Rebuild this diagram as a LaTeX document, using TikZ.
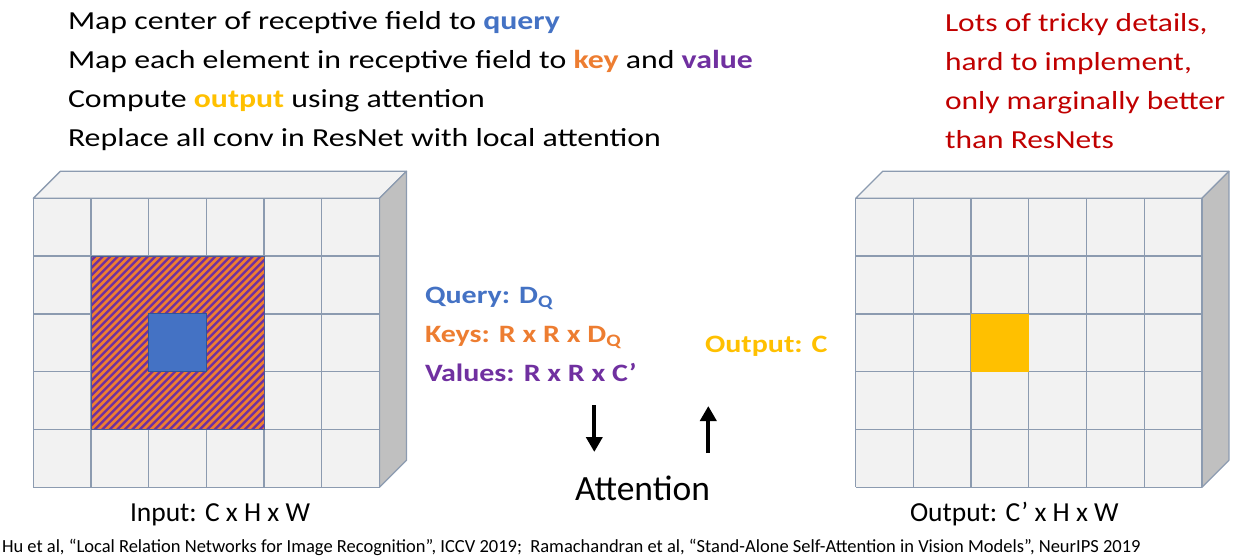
\documentclass[tikz,border=0pt]{standalone}
\usepackage{fontspec}
\setmainfont{Carlito}
\usetikzlibrary{arrows.meta}
\definecolor{gridfill}{HTML}{F2F2F2}
\definecolor{gridline}{HTML}{8C9BB0}
\definecolor{sideface}{HTML}{C0C0C0}
\definecolor{qblue}{HTML}{4472C4}
\definecolor{qblueline}{HTML}{2F5597}
\definecolor{korange}{HTML}{ED7D31}
\definecolor{vpurple}{HTML}{7030A0}
\definecolor{oyellow}{HTML}{FFC000}
\definecolor{warnred}{HTML}{C00000}
\definecolor{hatchline}{HTML}{4A5A96}
\newcommand\stretchtop[1]{\scalebox{1.223}[1]{#1}}
\newcommand\stretchred[1]{\scalebox{1.21}[1]{#1}}
\newcommand\stretchmid[1]{\scalebox{1.2}[1]{#1}}
\tikzset{
  txt/.style={anchor=base west, inner sep=0pt, outer sep=0pt},
  toptext/.style={txt, font=\fontsize{26}{30}\selectfont},
  redtext/.style={txt, text=warnred, font=\fontsize{26}{30}\selectfont},
  midtext/.style={txt, font=\bfseries\fontsize{25}{29}\selectfont},
  labeltext/.style={txt, font=\fontsize{27.5}{32}\selectfont},
  citetext/.style={txt, font=\fontsize{18.5}{22}\selectfont},
  bigarrow/.style={line width=4.2pt, -{Triangle[width=16pt,length=15pt]}},
  face/.style={fill=gridfill, draw=gridline, line width=1.3pt, line join=round},
  side/.style={fill=sideface, draw=gridline, line width=1.3pt, line join=round},
  gline/.style={draw=gridline, line width=1.3pt},
}
\begin{document}
\begin{tikzpicture}[x=1pt,y=-1pt]
\useasboundingbox (0,0) rectangle (1258,559);

% ---------- left block ----------
\def\xa{33.3}\def\ya{198.3}\def\cw{57.7}\def\ch{57.8}\def\dd{27}
\pgfmathsetmacro\W{6*\cw}\pgfmathsetmacro\H{5*\ch}
\draw[face] (\xa,\ya) -- ++(\dd,-\dd) -- ++(\W,0) -- ++(-\dd,\dd) -- cycle;
\draw[side] (\xa+\W,\ya) -- ++(\dd,-\dd) -- ++(0,\H) -- ++(-\dd,\dd) -- cycle;
\fill[gridfill] (\xa,\ya) rectangle ++(\W,\H);
\foreach \i in {0,...,6} \draw[gline] (\xa+\i*\cw,\ya) -- ++(0,\H);
\foreach \j in {0,...,5} \draw[gline] (\xa,\ya+\j*\ch) -- ++(\W,0);
% hatched receptive field
\begin{scope}
\clip (\xa+\cw,\ya+\ch) rectangle ++(3*\cw,3*\ch);
\fill[vpurple] (\xa+\cw,\ya+\ch) rectangle ++(3*\cw,3*\ch);
\foreach \i in {0,...,50} \draw[korange, line width=2.6pt] (\xa+\cw-185+\i*7.5,\ya+4*\ch+5) -- ++(200,-200);
\end{scope}
\draw[hatchline, line width=1pt] (\xa+\cw,\ya+\ch) rectangle ++(3*\cw,3*\ch);
\draw[fill=qblue, draw=qblueline, line width=1pt] (\xa+2*\cw,\ya+2*\ch) rectangle ++(\cw,\ch);

% ---------- right block ----------
\def\xb{855.7}
\draw[face] (\xb,\ya) -- ++(\dd,-\dd) -- ++(\W,0) -- ++(-\dd,\dd) -- cycle;
\draw[side] (\xb+\W,\ya) -- ++(\dd,-\dd) -- ++(0,\H) -- ++(-\dd,\dd) -- cycle;
\fill[gridfill] (\xb,\ya) rectangle ++(\W,\H);
\foreach \i in {0,...,6} \draw[gline] (\xb+\i*\cw,\ya) -- ++(0,\H);
\foreach \j in {0,...,5} \draw[gline] (\xb,\ya+\j*\ch) -- ++(\W,0);
\fill[oyellow] (\xb+2*\cw,\ya+2*\ch) rectangle ++(\cw,\ch);

% ---------- top text ----------
\node[toptext] (t1) at (68,29.3) {\stretchtop{Map center of receptive field to \textbf{\textcolor{qblue}{query}}}};
\node[toptext] (t2) at (68,68.3) {\stretchtop{Map each element in receptive field to \textbf{\textcolor{korange}{key}} and \textbf{\textcolor{vpurple}{value}}}};
\node[toptext] (t3) at (68,107.3) {\stretchtop{Compute \textbf{\textcolor{oyellow}{output}} using attention}};
\node[toptext] (t4) at (68,146.3) {\stretchtop{Replace all conv in ResNet with local attention}};

\node[redtext] (r1) at (945,31.7) {\stretchred{Lots of tricky details,}};
\node[redtext] (r2) at (945,70.6) {\stretchred{hard to implement,}};
\node[redtext] (r3) at (945,109.5) {\stretchred{only marginally better}};
\node[redtext] (r4) at (945,148.4) {\stretchred{than ResNets}};

% ---------- middle ----------
\node[midtext, text=qblue] (q) at (425,303.5) {\stretchmid{Query: D\textsubscript{Q}}};
\node[midtext, text=korange] (k) at (425,342.5) {\stretchmid{Keys: R x R x D\textsubscript{Q}}};
\node[midtext, text=vpurple] (v) at (425,381.5) {\stretchmid{Values: R x R x C’}};
\node[midtext, text=oyellow] (o) at (705,352) {\stretchmid{Output: C}};

\coordinate (d1) at (594.3,405);
\coordinate (d2) at (594.3,452);
\coordinate (u1) at (708.3,453);
\coordinate (u2) at (708.3,406);
\draw[bigarrow] (d1) -- (d2);
\draw[bigarrow] (u1) -- (u2);

\node[txt, font=\fontsize{35.5}{40}\selectfont] (att) at (575,500) {Attention};

\node[labeltext] (inl) at (130,521.7) {Input: C x H x W};
\node[labeltext] (outl) at (910,521.7) {Output: C’ x H x W};

\node[citetext] (cite) at (2,552.7) {Hu et al, “Local Relation Networks for Image Recognition”, ICCV 2019;\ \ Ramachandran et al, “Stand-Alone Self-Attention in Vision Models”, NeurIPS 2019};
\end{tikzpicture}
\end{document}
